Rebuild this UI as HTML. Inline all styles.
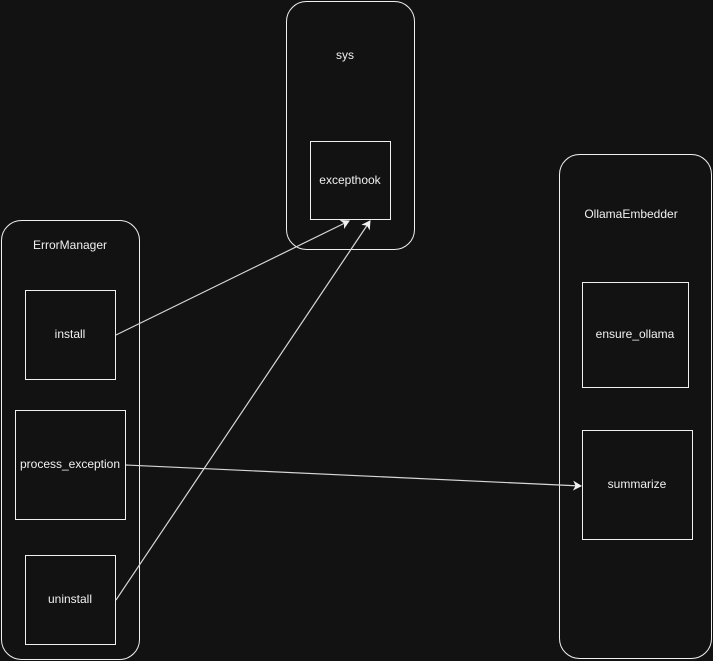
<!DOCTYPE html>
<html><head><meta charset="utf-8"><style>
html,body{margin:0;padding:0;background:#121212;}
svg{display:block}
text{font-family:"Liberation Sans",sans-serif;font-size:12px;fill:#f0f0f0;text-anchor:middle;dominant-baseline:middle}
</style></head><body>
<svg width="713" height="661" viewBox="0 0 713 661" xmlns="http://www.w3.org/2000/svg">
<rect width="713" height="661" fill="#121212"/>
<defs><marker id="a" markerWidth="10" markerHeight="10" refX="8" refY="5" orient="auto" markerUnits="userSpaceOnUse"><path d="M0,0 L9,5 L0,10 L2.5,5 Z" fill="#f0f0f0"/></marker></defs>
<g fill="none" stroke="#f0f0f0" stroke-width="1">
<rect x="286.5" y="1.5" width="128" height="248" rx="20"/>
<rect x="1.5" y="220.5" width="138" height="439" rx="20"/>
<rect x="559.5" y="154.5" width="152" height="504" rx="20"/>
<rect x="310.5" y="141.5" width="80" height="78"/>
<rect x="25.5" y="290.5" width="90" height="89"/>
<rect x="15.5" y="410.5" width="110" height="109"/>
<rect x="25.5" y="555.5" width="90" height="89"/>
<rect x="582.5" y="282.5" width="106" height="105"/>
<rect x="582.5" y="430.5" width="110" height="109"/>
</g>
<g stroke="#d8d8d8" stroke-width="1.2" fill="none">
<line x1="116" y1="335" x2="349" y2="221" marker-end="url(#a)"/>
<line x1="116" y1="600" x2="370" y2="221" marker-end="url(#a)"/>
<line x1="126" y1="465" x2="581" y2="486" marker-end="url(#a)"/>
</g>
<text x="345" y="56">sys</text>
<text x="350" y="181">excepthook</text>
<text x="70" y="246">ErrorManager</text>
<text x="70" y="335">install</text>
<text x="70" y="465">process_exception</text>
<text x="70" y="600">uninstall</text>
<text x="631" y="215">OllamaEmbedder</text>
<text x="635" y="335">ensure_ollama</text>
<text x="637" y="485">summarize</text>
</svg>
</body></html>
